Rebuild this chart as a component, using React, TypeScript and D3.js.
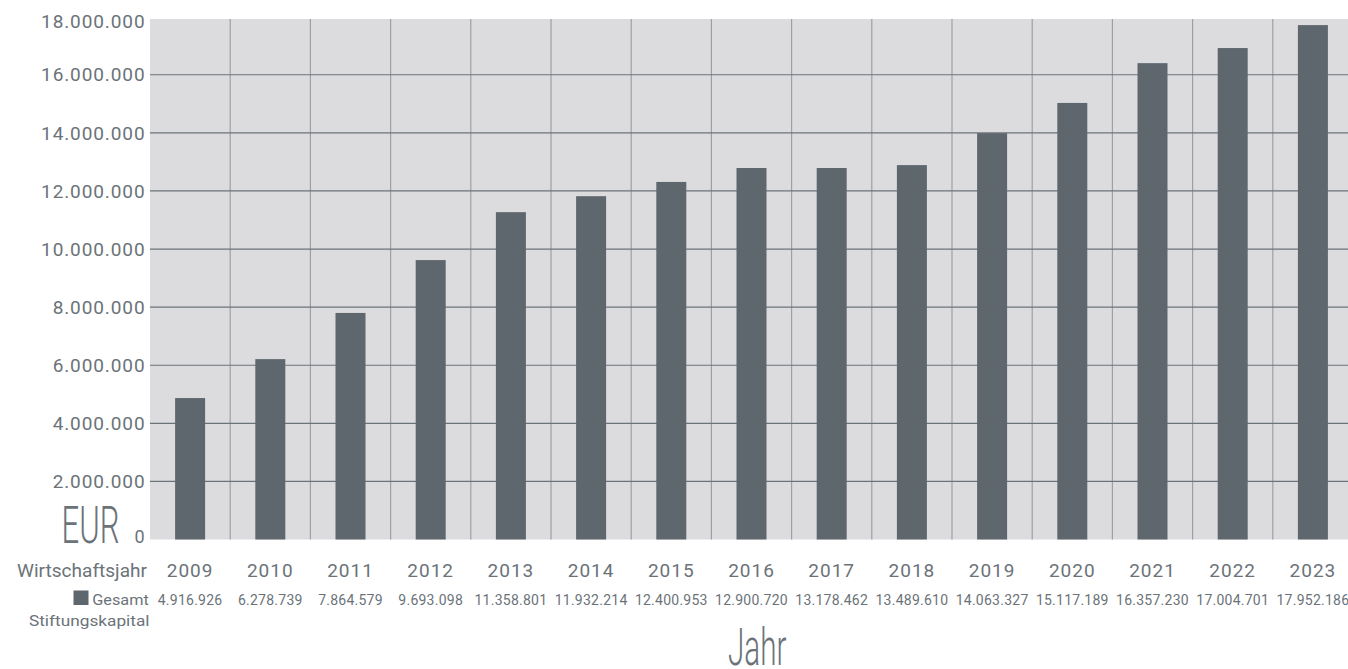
import React from "react";
import * as d3 from "d3";

const years = ["2009", "2010", "2011", "2012", "2013", "2014", "2015", "2016", "2017", "2018", "2019", "2020", "2021", "2022", "2023"];
const barValues = [4870000, 6210000, 7800000, 9620000, 11270000, 11820000, 12310000, 12790000, 12790000, 12890000, 13990000, 15030000, 16400000, 16920000, 17710000];
const tableLabels = ["4.916.926", "6.278.739", "7.864.579", "9.693.098", "11.358.801", "11.932.214", "12.400.953", "12.900.720", "13.178.462", "13.489.610", "14.063.327", "15.117.189", "16.357.230", "17.004.701", "17.952.186"];
const yTicks = [0, 2000000, 4000000, 6000000, 8000000, 10000000, 12000000, 14000000, 16000000, 18000000];
const seriesName = "Gesamt";
const rowTitle = "Wirtschaftsjahr";
const rowSubtitle = "Stiftungskapital";
const yUnit = "EUR";
const xTitle = "Jahr";

const W = 1348;
const H = 669;
const plotLeft = 150;
const plotTop = 19;
const plotBottom = 539.5;
const band = 80.2;

const locale = d3.formatLocale({ decimal: ",", thousands: ".", grouping: [3], currency: ["", "€"] });
const fmt = locale.format(",d");

const textColor = "#6b7379";
const font = "Roboto, 'DejaVu Sans', sans-serif";

export default function App() {
  const x = d3.scaleBand<string>().domain(years).range([plotLeft, plotLeft + band * years.length]).padding(0);
  const y = d3.scaleLinear().domain([0, 17920000]).range([plotBottom, plotTop]);
  const barW = 30;
  const bw = x.bandwidth();

  return (
    <div style={{ position: "absolute", left: 0, top: 0, width: W, height: H }}>
      <svg width={W} height={H} style={{ display: "block" }} fontFamily={font}>
        <rect x={plotLeft} y={plotTop} width={W - plotLeft} height={plotBottom - plotTop} fill="#dcdcdf" />
        {years.slice(1).map((yr) => (
          <line key={"v" + yr} x1={x(yr)!} x2={x(yr)!} y1={plotTop} y2={plotBottom} stroke="#9ca0a3" strokeWidth={1.2} />
        ))}
        {yTicks.filter((t) => t > 0 && y(t) > plotTop + 1).map((t) => (
          <line key={"h" + t} x1={plotLeft} x2={W} y1={y(t)} y2={y(t)} stroke="#6c7378" strokeWidth={1.2} />
        ))}
        {years.map((yr, i) => (
          <rect key={"b" + yr} x={x(yr)! + (bw - barW) / 2} y={y(barValues[i])} width={barW} height={plotBottom - y(barValues[i])} fill="#5f676e" />
        ))}
        {yTicks.map((t) => (
          <text
            key={"t" + t}
            x={145.5}
            y={t === 0 ? y(t) - 3 : Math.max(y(t), 21)}
            dy="0.35em"
            textAnchor="end"
            fontSize={t === 0 ? 18 : 19}
            letterSpacing={0.9}
            fill={textColor}
          >
            {fmt(t)}
          </text>
        ))}
        <text x={61.5} y={542.5} fontSize={52} fontWeight={300} fill={textColor} textLength={58} lengthAdjust="spacingAndGlyphs">
          {yUnit}
        </text>
        <text x={17} y={576.5} fontSize={19} fill={textColor} textLength={130} lengthAdjust="spacingAndGlyphs">
          {rowTitle}
        </text>
        {years.map((yr) => (
          <text key={"y" + yr} x={x(yr)! + bw / 2} y={576.5} textAnchor="middle" fontSize={19} letterSpacing={1} fill={textColor}>
            {yr}
          </text>
        ))}
        <rect x={73.5} y={590.5} width={15} height={14.5} fill="#5f676e" />
        <text x={92.3} y={605} fontSize={14.5} fill={textColor} textLength={56.5} lengthAdjust="spacingAndGlyphs">
          {seriesName}
        </text>
        <text x={29} y={625.5} fontSize={14.5} fill={textColor} textLength={120.5} lengthAdjust="spacingAndGlyphs">
          {rowSubtitle}
        </text>
        {years.map((yr, i) => (
          <text key={"v" + yr} x={x(yr)! + bw / 2} y={605} textAnchor="middle" fontSize={14} letterSpacing={0.25} fill={textColor}>
            {tableLabels[i]}
          </text>
        ))}
        <text x={728} y={664.5} fontSize={52} fontWeight={300} fill={textColor} textLength={58.5} lengthAdjust="spacingAndGlyphs">
          {xTitle}
        </text>
      </svg>
    </div>
  );
}
